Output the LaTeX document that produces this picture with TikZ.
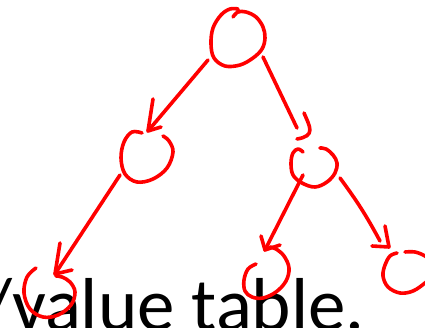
\documentclass[tikz,border=0pt]{standalone}
\usepackage{fontspec}
\setmainfont{Carlito}
\begin{document}
\begin{tikzpicture}[x=1pt,y=-1pt,
  ink/.style={draw=red, line width=3.6pt, line cap=round, line join=round},
  loop/.style={ink, smooth, tension=0.6}]
\useasboundingbox (0,0) rectangle (425,328);
\clip (0,0) rectangle (425,328);

% slide text behind the sketch
\node[anchor=base west, inner sep=0pt, font=\fontsize{75}{82}\selectfont] (caption) at (-17,330) {/value table.};

% hand-drawn tree nodes
\draw[loop] plot coordinates {(233,17) (238,12) (246,12) (256,17) (263,27) (265,38) (262,49) (253,58) (240,65) (225,66) (214,58) (211,44) (213,28) (221,15) (230,9) (238,9)};
\draw[loop] plot coordinates {(142,133) (132,132) (124,142) (121,158) (125,174) (137,182) (153,179) (167,168) (173,152) (169,141) (163,136)};
\draw[loop] plot coordinates {(303,152) (298,149) (293,153) (291,163) (293,175) (302,183) (315,187) (327,182) (335,173) (337,163) (333,155) (326,149) (320,148)};
\draw[loop] plot coordinates {(36,268) (27,277) (24,293) (30,309) (43,317) (58,315) (71,305) (75,292) (70,282) (62,277) (56,276)};
\draw[loop] plot coordinates {(256,264) (248,269) (244,280) (245,291) (252,297) (263,298) (276,292) (286,281) (289,268) (284,256) (276,249) (270,247)};
\draw[loop] plot coordinates {(397,253) (390,256) (385,265) (383,276) (388,287) (400,293) (413,291) (425,283) (430,278)};
\draw[loop] plot coordinates {(405,252) (415,252) (425,256) (432,262)};

% connector end points
\coordinate (rootSW) at (208,60);
\coordinate (rootSE) at (263,57);
\coordinate (leftS) at (120,175);
\coordinate (rightSW) at (303,175);
\coordinate (rightSE) at (340,178);
\coordinate (tipA) at (148,131);
\coordinate (tipB) at (297,128);
\coordinate (tipC) at (55,274);
\coordinate (tipD) at (265,250);
\coordinate (tipE) at (380,241);

% connectors
\draw[ink] (rootSW) -- (tipA);
\draw[ink] (rootSE) -- (tipB);
\draw[ink] (leftS) -- (tipC);
\draw[ink] (rightSW) -- (tipD);
\draw[ink] (rightSE) to[bend left=4] (tipE);

% hand-drawn arrowheads
\draw[ink] (153,99) -- (148,131) -- (161,127);
\draw[ink] (304,113) .. controls (310,127) and (316,136) .. (297,139);
\draw[ink] (60,243) -- (55,274) -- (72,270);
\draw[ink] (261,236) -- (265,250) -- (280,245);
\draw[ink] (385,226) -- (389,247) -- (372,246);
\end{tikzpicture}
\end{document}
